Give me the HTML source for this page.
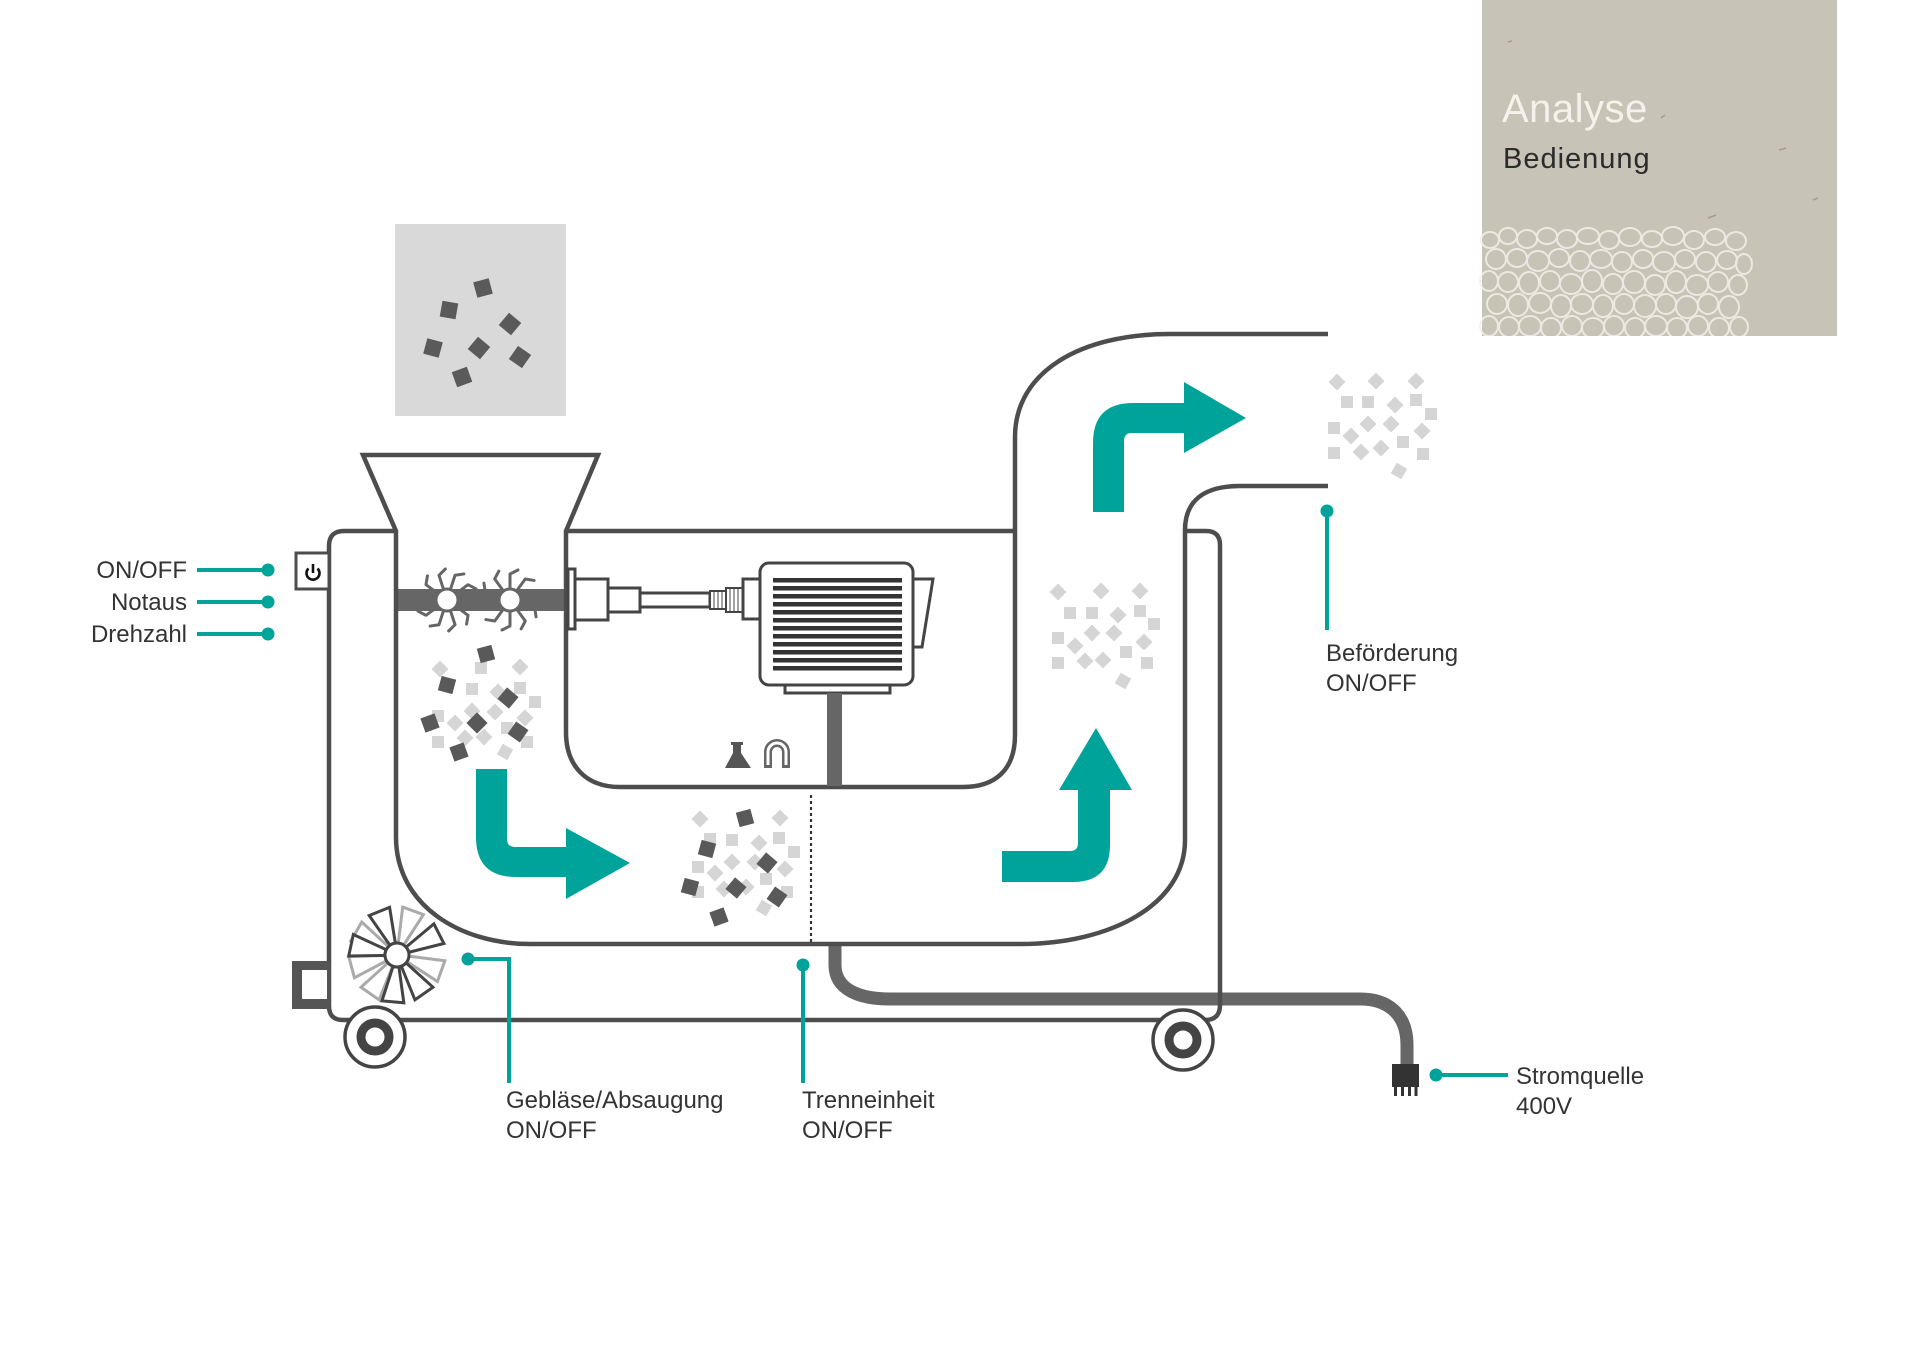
<!DOCTYPE html>
<html>
<head>
<meta charset="utf-8">
<style>
  html,body{margin:0;padding:0;background:#fff;}
  body{width:1920px;height:1358px;overflow:hidden;}
  svg{display:block;}
  text{font-family:"Liberation Sans",sans-serif;}
</style>
</head>
<body>
<svg width="1920" height="1358" viewBox="0 0 1920 1358" xmlns="http://www.w3.org/2000/svg">
  <defs>
    <rect id="pd" x="-7.5" y="-7.5" width="15" height="15" fill="#595959"/>
    <rect id="pg" x="-8" y="-8" width="16" height="16" fill="#5a5a5a"/>
    <rect id="pl" x="-6" y="-6" width="12" height="12" fill="#d5d5d5"/>
    <path id="spike" d="M11,0 L26,0 L30,8" fill="none" stroke="#666" stroke-width="3" stroke-linecap="round" stroke-linejoin="round"/>
    <polygon id="blade" points="12,-3 47,-11 47,11 12,3" fill="#fff" stroke-width="3" stroke-linejoin="miter"/>
  </defs>

  <rect width="1920" height="1358" fill="#fff"/>

  <!-- Texture box -->
  <rect x="1482" y="0" width="355" height="336" fill="#c8c3b7"/>
  <g fill="none" stroke="#f3f0ea" stroke-width="2" opacity="0.85">
    <ellipse cx="1490" cy="240" rx="9" ry="8"/><ellipse cx="1508" cy="236" rx="9" ry="8"/><ellipse cx="1527" cy="239" rx="10" ry="9"/><ellipse cx="1547" cy="236" rx="10" ry="8"/><ellipse cx="1567" cy="239" rx="10" ry="9"/><ellipse cx="1588" cy="236" rx="11" ry="8"/><ellipse cx="1609" cy="240" rx="10" ry="9"/><ellipse cx="1630" cy="237" rx="11" ry="9"/><ellipse cx="1652" cy="239" rx="10" ry="8"/><ellipse cx="1673" cy="236" rx="11" ry="9"/><ellipse cx="1694" cy="240" rx="10" ry="9"/><ellipse cx="1715" cy="237" rx="10" ry="8"/><ellipse cx="1736" cy="241" rx="10" ry="9"/>
    <ellipse cx="1496" cy="259" rx="10" ry="10"/><ellipse cx="1517" cy="258" rx="10" ry="9"/><ellipse cx="1538" cy="261" rx="11" ry="10"/><ellipse cx="1559" cy="258" rx="10" ry="9"/><ellipse cx="1580" cy="261" rx="10" ry="10"/><ellipse cx="1601" cy="259" rx="11" ry="9"/><ellipse cx="1622" cy="262" rx="10" ry="10"/><ellipse cx="1643" cy="259" rx="10" ry="9"/><ellipse cx="1664" cy="262" rx="11" ry="10"/><ellipse cx="1685" cy="259" rx="10" ry="9"/><ellipse cx="1706" cy="262" rx="10" ry="10"/><ellipse cx="1727" cy="260" rx="10" ry="9"/><ellipse cx="1744" cy="264" rx="8" ry="10"/>
    <ellipse cx="1489" cy="281" rx="9" ry="10"/><ellipse cx="1508" cy="282" rx="10" ry="10"/><ellipse cx="1529" cy="283" rx="10" ry="11"/><ellipse cx="1550" cy="281" rx="10" ry="10"/><ellipse cx="1571" cy="284" rx="11" ry="10"/><ellipse cx="1592" cy="281" rx="10" ry="11"/><ellipse cx="1613" cy="284" rx="10" ry="10"/><ellipse cx="1634" cy="282" rx="11" ry="11"/><ellipse cx="1655" cy="285" rx="10" ry="10"/><ellipse cx="1676" cy="282" rx="10" ry="11"/><ellipse cx="1697" cy="285" rx="11" ry="10"/><ellipse cx="1718" cy="282" rx="10" ry="10"/><ellipse cx="1738" cy="285" rx="9" ry="10"/>
    <ellipse cx="1497" cy="304" rx="10" ry="10"/><ellipse cx="1518" cy="305" rx="10" ry="11"/><ellipse cx="1540" cy="303" rx="11" ry="10"/><ellipse cx="1561" cy="306" rx="10" ry="11"/><ellipse cx="1582" cy="304" rx="11" ry="10"/><ellipse cx="1603" cy="306" rx="10" ry="11"/><ellipse cx="1624" cy="304" rx="10" ry="10"/><ellipse cx="1645" cy="306" rx="11" ry="11"/><ellipse cx="1666" cy="304" rx="10" ry="10"/><ellipse cx="1687" cy="307" rx="11" ry="11"/><ellipse cx="1708" cy="304" rx="10" ry="10"/><ellipse cx="1729" cy="307" rx="10" ry="11"/>
    <ellipse cx="1489" cy="326" rx="9" ry="10"/><ellipse cx="1509" cy="327" rx="10" ry="10"/><ellipse cx="1530" cy="326" rx="11" ry="10"/><ellipse cx="1551" cy="328" rx="10" ry="10"/><ellipse cx="1572" cy="326" rx="10" ry="10"/><ellipse cx="1593" cy="328" rx="11" ry="10"/><ellipse cx="1614" cy="326" rx="10" ry="10"/><ellipse cx="1635" cy="328" rx="10" ry="10"/><ellipse cx="1656" cy="326" rx="11" ry="10"/><ellipse cx="1677" cy="328" rx="10" ry="10"/><ellipse cx="1698" cy="326" rx="10" ry="10"/><ellipse cx="1719" cy="328" rx="10" ry="10"/><ellipse cx="1739" cy="327" rx="9" ry="10"/>
  </g>
  <rect x="1482" y="336" width="355" height="6" fill="#fff"/>
  <g stroke="#8a8378" stroke-width="1.5" opacity="0.6">
    <line x1="1508" y1="42" x2="1512" y2="41"/><line x1="1661" y1="118" x2="1665" y2="115"/><line x1="1708" y1="218" x2="1716" y2="215"/><line x1="1779" y1="150" x2="1786" y2="148"/><line x1="1813" y1="200" x2="1818" y2="198"/>
  </g>
  <text x="1502" y="122" font-size="40" fill="#f5f2ec" letter-spacing="0.5">Analyse</text>
  <text x="1503" y="168" font-size="29" fill="#2b2b2b" letter-spacing="1">Bedienung</text>

  <!-- Gray input square -->
  <rect x="395" y="224" width="171" height="192" fill="#d9d9d9"/>
  <use href="#pg" transform="translate(483,288) rotate(-15)"/>
  <use href="#pg" transform="translate(449,310) rotate(10)"/>
  <use href="#pg" transform="translate(510,324) rotate(40)"/>
  <use href="#pg" transform="translate(433,348) rotate(15)"/>
  <use href="#pg" transform="translate(479,348) rotate(40)"/>
  <use href="#pg" transform="translate(520,357) rotate(35)"/>
  <use href="#pg" transform="translate(462,377) rotate(-20)"/>

  <!-- Crusher bar -->
  <rect x="396" y="589" width="170" height="22" fill="#666"/>

  <!-- Cable -->
  <path d="M835,944 L835,965 C835,990 860,999 890,999 L1360,999 C1392,999 1407,1018 1407,1045 L1407,1066" fill="none" stroke="#666" stroke-width="13"/>

  <!-- Pipes and body lines -->
  <g fill="none" stroke="#4d4d4d" stroke-width="4.5" stroke-linejoin="miter">
    <path d="M396,531 L363,455 L598,455 L566,531"/>
    <path d="M566,530 L566,732 C566,765 585,787 620,787 L963,787 C995,787 1015,770 1015,735 L1015,437 C1015,372 1080,334 1170,334 L1328,334"/>
    <path d="M566,531 L1015,531"/>
    <path d="M396,530 L396,837 C396,905 460,944 530,944 L1020,944 C1110,944 1185,905 1185,840 L1185,530 C1185,500 1205,486 1240,486 L1328,486"/>
    <path d="M396,531 L344,531 Q329,531 329,546 L329,1006 Q329,1020 343,1020 L1205,1020 Q1220,1020 1220,1005 L1220,545 Q1220,531 1206,531 L1185,531"/>
  </g>

  <!-- Left small box -->
  <rect x="292" y="961" width="38" height="48" fill="#555"/>
  <rect x="302" y="970" width="25" height="29" fill="#fff"/>

  <!-- Power box -->
  <rect x="296" y="553" width="33" height="36" fill="#fff" stroke="#4d4d4d" stroke-width="3"/>
  <path d="M308.5,568.5 A6.5,6.5 0 1,0 317.5,568.5" fill="none" stroke="#111" stroke-width="2.6"/>
  <line x1="313" y1="564" x2="313" y2="573" stroke="#111" stroke-width="2.6"/>

  <!-- Crusher stars -->
  <g transform="translate(447,600)">
    <use href="#spike" transform="rotate(0)"/><use href="#spike" transform="rotate(36)"/><use href="#spike" transform="rotate(72)"/><use href="#spike" transform="rotate(108)"/><use href="#spike" transform="rotate(144)"/><use href="#spike" transform="rotate(180)"/><use href="#spike" transform="rotate(216)"/><use href="#spike" transform="rotate(252)"/><use href="#spike" transform="rotate(288)"/><use href="#spike" transform="rotate(324)"/>
    <circle r="11" fill="#fff" stroke="#666" stroke-width="3"/>
  </g>
  <g transform="translate(510,600)">
    <use href="#spike" transform="rotate(18)"/><use href="#spike" transform="rotate(54)"/><use href="#spike" transform="rotate(90)"/><use href="#spike" transform="rotate(126)"/><use href="#spike" transform="rotate(162)"/><use href="#spike" transform="rotate(198)"/><use href="#spike" transform="rotate(234)"/><use href="#spike" transform="rotate(270)"/><use href="#spike" transform="rotate(306)"/><use href="#spike" transform="rotate(342)"/>
    <circle r="11" fill="#fff" stroke="#666" stroke-width="3"/>
  </g>

  <!-- Left particle cluster -->
  <g>
    <use href="#pl" transform="translate(440,669) rotate(45)"/><use href="#pl" transform="translate(481,668) rotate(0)"/><use href="#pl" transform="translate(520,667) rotate(45)"/><use href="#pl" transform="translate(472,689)"/><use href="#pl" transform="translate(498,692) rotate(45)"/><use href="#pl" transform="translate(520,688)"/><use href="#pl" transform="translate(535,702)"/><use href="#pl" transform="translate(472,711) rotate(45)"/><use href="#pl" transform="translate(495,712) rotate(45)"/><use href="#pl" transform="translate(438,716)"/><use href="#pl" transform="translate(455,723) rotate(45)"/><use href="#pl" transform="translate(525,718) rotate(45)"/><use href="#pl" transform="translate(507,728)"/><use href="#pl" transform="translate(438,742)"/><use href="#pl" transform="translate(465,738) rotate(45)"/><use href="#pl" transform="translate(484,737) rotate(45)"/><use href="#pl" transform="translate(527,742)"/><use href="#pl" transform="translate(505,752) rotate(30)"/>
    <use href="#pd" transform="translate(486,654) rotate(-15)"/><use href="#pd" transform="translate(447,685) rotate(15)"/><use href="#pd" transform="translate(508,698) rotate(40)"/><use href="#pd" transform="translate(430,723) rotate(-20)"/><use href="#pd" transform="translate(477,723) rotate(45)"/><use href="#pd" transform="translate(518,732) rotate(35)"/><use href="#pd" transform="translate(459,752) rotate(-20)"/>
  </g>

  <!-- Middle particle cluster -->
  <g>
    <use href="#pl" transform="translate(700,819) rotate(45)"/><use href="#pl" transform="translate(780,818) rotate(45)"/><use href="#pl" transform="translate(710,839)"/><use href="#pl" transform="translate(732,840)"/><use href="#pl" transform="translate(759,843) rotate(45)"/><use href="#pl" transform="translate(779,838)"/><use href="#pl" transform="translate(794,852)"/><use href="#pl" transform="translate(698,867)"/><use href="#pl" transform="translate(732,862) rotate(45)"/><use href="#pl" transform="translate(755,862) rotate(45)"/><use href="#pl" transform="translate(785,869) rotate(45)"/><use href="#pl" transform="translate(715,873) rotate(45)"/><use href="#pl" transform="translate(766,879)"/><use href="#pl" transform="translate(724,889) rotate(45)"/><use href="#pl" transform="translate(746,887) rotate(45)"/><use href="#pl" transform="translate(787,892)"/><use href="#pl" transform="translate(764,908) rotate(30)"/><use href="#pl" transform="translate(698,892)"/>
    <use href="#pd" transform="translate(745,818) rotate(-15)"/><use href="#pd" transform="translate(707,849) rotate(15)"/><use href="#pd" transform="translate(767,863) rotate(40)"/><use href="#pd" transform="translate(690,887) rotate(15)"/><use href="#pd" transform="translate(736,888) rotate(40)"/><use href="#pd" transform="translate(777,897) rotate(35)"/><use href="#pd" transform="translate(719,917) rotate(-20)"/>
  </g>

  <!-- Right riser light cluster -->
  <g>
    <use href="#pl" transform="translate(1058,592) rotate(45)"/><use href="#pl" transform="translate(1101,591) rotate(45)"/><use href="#pl" transform="translate(1140,591) rotate(45)"/><use href="#pl" transform="translate(1070,613)"/><use href="#pl" transform="translate(1092,613)"/><use href="#pl" transform="translate(1118,615) rotate(45)"/><use href="#pl" transform="translate(1140,611)"/><use href="#pl" transform="translate(1154,624)"/><use href="#pl" transform="translate(1058,638)"/><use href="#pl" transform="translate(1075,646) rotate(45)"/><use href="#pl" transform="translate(1092,633) rotate(45)"/><use href="#pl" transform="translate(1114,633) rotate(45)"/><use href="#pl" transform="translate(1126,652)"/><use href="#pl" transform="translate(1144,642) rotate(45)"/><use href="#pl" transform="translate(1058,663)"/><use href="#pl" transform="translate(1085,661) rotate(45)"/><use href="#pl" transform="translate(1103,660) rotate(45)"/><use href="#pl" transform="translate(1147,663)"/><use href="#pl" transform="translate(1123,681) rotate(30)"/>
  </g>
  <!-- Top right outside light cluster -->
  <g>
    <use href="#pl" transform="translate(1337,382) rotate(45)"/><use href="#pl" transform="translate(1376,381) rotate(45)"/><use href="#pl" transform="translate(1416,381) rotate(45)"/><use href="#pl" transform="translate(1347,402)"/><use href="#pl" transform="translate(1368,402)"/><use href="#pl" transform="translate(1395,405) rotate(45)"/><use href="#pl" transform="translate(1416,400)"/><use href="#pl" transform="translate(1431,414)"/><use href="#pl" transform="translate(1334,428)"/><use href="#pl" transform="translate(1351,436) rotate(45)"/><use href="#pl" transform="translate(1368,424) rotate(45)"/><use href="#pl" transform="translate(1391,424) rotate(45)"/><use href="#pl" transform="translate(1422,431) rotate(45)"/><use href="#pl" transform="translate(1334,453)"/><use href="#pl" transform="translate(1361,452) rotate(45)"/><use href="#pl" transform="translate(1381,448) rotate(45)"/><use href="#pl" transform="translate(1403,442)"/><use href="#pl" transform="translate(1423,454)"/><use href="#pl" transform="translate(1399,471) rotate(30)"/>
  </g>

  <!-- Motor assembly -->
  <g stroke="#444" stroke-width="3" fill="#fff">
    <rect x="568" y="569" width="7" height="60"/>
    <rect x="575" y="579" width="33" height="41"/>
    <rect x="608" y="588" width="32" height="24"/>
    <rect x="640" y="593" width="70" height="14"/>
    <rect x="710" y="591" width="16" height="18" stroke-width="2"/>
    <rect x="726" y="588" width="17" height="24" stroke-width="2"/>
    <rect x="743" y="579" width="17" height="40"/>
    <polygon points="913,579 933,579 922,647 913,647"/>
    <rect x="785" y="685" width="105" height="8"/>
    <rect x="760" y="563" width="153" height="122" rx="9"/>
  </g>
  <g stroke="#444" stroke-width="1">
    <line x1="714" y1="592" x2="714" y2="608"/><line x1="718" y1="592" x2="718" y2="608"/><line x1="722" y1="592" x2="722" y2="608"/>
    <line x1="730" y1="589" x2="730" y2="611"/><line x1="734" y1="589" x2="734" y2="611"/><line x1="738" y1="589" x2="738" y2="611"/>
  </g>
  <g fill="#333">
    <rect x="773" y="578" width="129" height="4.5"/><rect x="773" y="586" width="129" height="4.5"/><rect x="773" y="594" width="129" height="4.5"/><rect x="773" y="602" width="129" height="4.5"/><rect x="773" y="610" width="129" height="4.5"/><rect x="773" y="618" width="129" height="4.5"/><rect x="773" y="626" width="129" height="4.5"/><rect x="773" y="634" width="129" height="4.5"/><rect x="773" y="642" width="129" height="4.5"/><rect x="773" y="650" width="129" height="4.5"/><rect x="773" y="658" width="129" height="4.5"/><rect x="773" y="666" width="129" height="4.5"/>
  </g>
  <rect x="827" y="693" width="15" height="93" fill="#666"/>

  <!-- Flask & magnet -->
  <path d="M731,742 L743,742 L743,745 L741,745 L741,753 L751,768 L725,768 L733,753 L733,745 L731,745 Z" fill="#555"/>
  <path d="M768,768 L768,752 A9,9 0 0,1 786,752 L786,768" fill="none" stroke="#666" stroke-width="8"/>
  <path d="M768,765 L768,752 A9,9 0 0,1 786,752 L786,765" fill="none" stroke="#fff" stroke-width="3"/>

  <!-- Dotted separator -->
  <line x1="811" y1="795" x2="811" y2="942" stroke="#333" stroke-width="2.2" stroke-dasharray="3,3"/>

  <!-- Teal arrows -->
  <g fill="#00a39a">
    <path d="M476,769 L507,769 L507,839 Q507,847 515,847 L566,847 L566,828 L630,863 L566,899 L566,877 L516,877 Q476,877 476,837 Z"/>
    <path d="M1002,851 L1070,851 Q1078,851 1078,843 L1078,790 L1059,790 L1096,728 L1132,790 L1110,790 L1110,845 Q1110,882 1073,882 L1002,882 Z"/>
    <path d="M1093,512 L1093,443 Q1093,403 1133,403 L1184,403 L1184,382 L1246,418 L1184,453 L1184,433 L1132,433 Q1124,433 1124,441 L1124,512 Z"/>
  </g>

  <!-- Fan -->
  <g transform="translate(397,955)">
    <g stroke="#aaa">
      <use href="#blade" transform="rotate(-70)"/><use href="#blade" transform="rotate(-150)"/><use href="#blade" transform="rotate(20)"/><use href="#blade" transform="rotate(125)"/><use href="#blade" transform="rotate(165)"/>
    </g>
    <g stroke="#444">
      <use href="#blade" transform="rotate(-112)"/><use href="#blade" transform="rotate(-27)"/><use href="#blade" transform="rotate(55)"/><use href="#blade" transform="rotate(95)"/><use href="#blade" transform="rotate(192)"/>
    </g>
    <circle r="12" fill="#fff" stroke="#444" stroke-width="3"/>
  </g>

  <!-- Wheels -->
  <g>
    <circle cx="375" cy="1037" r="30" fill="#fff" stroke="#444" stroke-width="3.5"/>
    <circle cx="375" cy="1037" r="14" fill="none" stroke="#444" stroke-width="9"/>
    <circle cx="1183" cy="1040" r="30" fill="#fff" stroke="#444" stroke-width="3.5"/>
    <circle cx="1183" cy="1040" r="14" fill="none" stroke="#444" stroke-width="9"/>
  </g>

  <!-- Plug -->
  <rect x="1392" y="1064" width="27" height="23" fill="#333"/>
  <g stroke="#333" stroke-width="3">
    <line x1="1395.5" y1="1086" x2="1395.5" y2="1096"/><line x1="1402.5" y1="1086" x2="1402.5" y2="1096"/><line x1="1409.5" y1="1086" x2="1409.5" y2="1096"/><line x1="1416" y1="1086" x2="1416" y2="1096"/>
  </g>

  <!-- Teal connectors -->
  <g stroke="#00a39a" stroke-width="4" fill="none">
    <line x1="197" y1="570" x2="268" y2="570"/>
    <line x1="197" y1="602" x2="268" y2="602"/>
    <line x1="197" y1="634" x2="268" y2="634"/>
    <path d="M468,959 L509,959 L509,1083"/>
    <path d="M803,965 L803,1083"/>
    <path d="M1327,511 L1327,630"/>
    <path d="M1436,1075 L1508,1075"/>
  </g>
  <g fill="#00a39a">
    <circle cx="268" cy="570" r="6.5"/><circle cx="268" cy="602" r="6.5"/><circle cx="268" cy="634" r="6.5"/>
    <circle cx="468" cy="959" r="6.5"/><circle cx="803" cy="965" r="6.5"/><circle cx="1327" cy="511" r="6.5"/><circle cx="1436" cy="1075" r="6.5"/>
  </g>

  <!-- Labels -->
  <g fill="#333" font-size="24">
    <text x="187" y="578" text-anchor="end">ON/OFF</text>
    <text x="187" y="610" text-anchor="end">Notaus</text>
    <text x="187" y="642" text-anchor="end">Drehzahl</text>
    <text x="506" y="1108">Gebläse/Absaugung</text>
    <text x="506" y="1138">ON/OFF</text>
    <text x="802" y="1108">Trenneinheit</text>
    <text x="802" y="1138">ON/OFF</text>
    <text x="1326" y="661">Beförderung</text>
    <text x="1326" y="691">ON/OFF</text>
    <text x="1516" y="1084">Stromquelle</text>
    <text x="1516" y="1114">400V</text>
  </g>
</svg>
</body>
</html>
